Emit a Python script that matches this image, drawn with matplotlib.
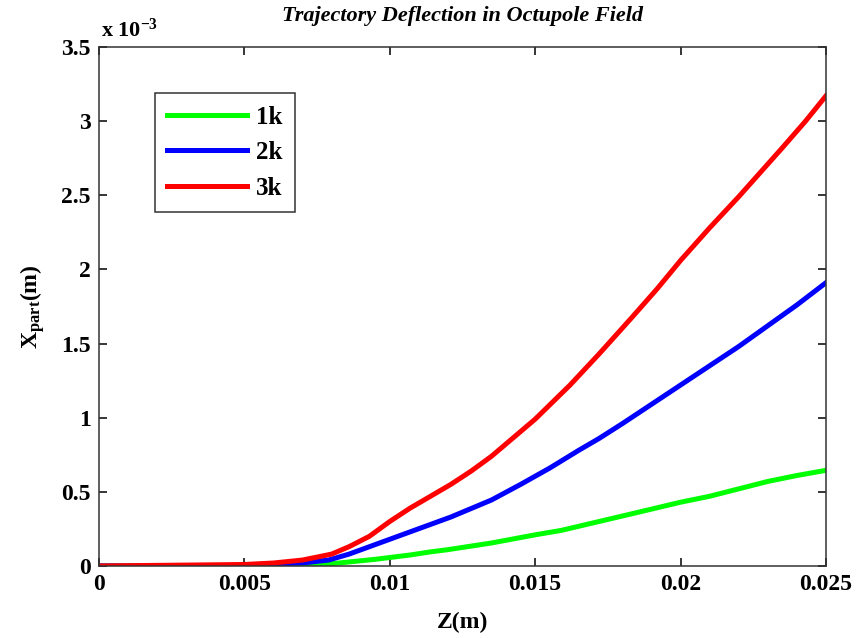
import matplotlib
matplotlib.use("Agg")
import matplotlib.pyplot as plt
from matplotlib.ticker import FuncFormatter, MultipleLocator

# Axial position (mm) and transverse displacement (x 1e-3 m) for each beam energy
z_red = [0, 5, 6, 7, 8, 8.6, 9.3, 10, 10.7, 11.4, 12.1, 12.8, 13.5, 14.1, 15, 16.2,
         17.2, 18.3, 19.2, 20, 21, 22, 22.5, 23.5, 24.3, 25]
x_3k = [0, 0.01, 0.02, 0.04, 0.08, 0.13, 0.20, 0.30, 0.39, 0.47, 0.55, 0.64, 0.74, 0.84,
        0.99, 1.22, 1.43, 1.67, 1.87, 2.06, 2.28, 2.49, 2.60, 2.82, 3.00, 3.17]

z_blue = [0, 5, 6, 7, 7.9, 8.6, 9.3, 10, 10.7, 11.4, 12.1, 13.5, 14.5, 15.5, 16.5, 17.2,
          18, 19, 20, 21, 22, 23, 24, 25]
x_2k = [0, 0.0, 0.01, 0.02, 0.04, 0.08, 0.13, 0.18, 0.23, 0.28, 0.33, 0.445, 0.55, 0.66,
        0.78, 0.86, 0.96, 1.09, 1.22, 1.35, 1.48, 1.62, 1.76, 1.91]

z_green = [0, 6, 7, 8, 8.6, 9.5, 10.7, 11.4, 12, 13.5, 15, 15.9, 17.2, 18.5, 20, 21, 22,
           23, 24, 25]
x_1k = [0, 0.0, 0.005, 0.015, 0.027, 0.045, 0.074, 0.095, 0.11, 0.155, 0.21, 0.24, 0.30,
        0.36, 0.43, 0.47, 0.52, 0.57, 0.61, 0.645]

series = [
    ("1k", z_green, x_1k, "#00ff00"),
    ("2k", z_blue, x_2k, "#0000ff"),
    ("3k", z_red, x_3k, "#ff0000"),
]

plt.rcParams["font.family"] = ["Liberation Serif", "DejaVu Serif"]
plt.rcParams["font.weight"] = "bold"
plt.rcParams["mathtext.fontset"] = "custom"
plt.rcParams["mathtext.rm"] = "Liberation Serif:bold"
plt.rcParams["mathtext.bf"] = "Liberation Serif:bold"
plt.rcParams["mathtext.it"] = "Liberation Serif:bold:italic"

fig = plt.figure(figsize=(8.63, 6.38), dpi=100)
ax = fig.add_axes([0.1147, 0.1129, 0.8423, 0.8134])

for label, z, x, color in series:
    ax.plot([v * 1e-3 for v in z], [v * 1e-3 for v in x], color=color, lw=3.6,
            label=label, solid_joinstyle="round")

ax.set_xlim(0, 0.025)
ax.set_ylim(0, 3.5e-3)
ax.xaxis.set_major_locator(MultipleLocator(0.005))
ax.yaxis.set_major_locator(MultipleLocator(0.5e-3))
ax.xaxis.set_major_formatter(FuncFormatter(lambda v, p: "%g" % round(v, 6)))
ax.yaxis.set_major_formatter(FuncFormatter(lambda v, p: "%g" % round(v * 1e3, 6)))

ax.tick_params(direction="in", length=6, width=1.1, top=True, right=True,
               labelsize=17, colors="black", pad=6)
for lab in ax.get_xticklabels() + ax.get_yticklabels():
    lab.set_fontweight("bold")
for sp in ax.spines.values():
    sp.set_linewidth(1.1)
    sp.set_color("#333333")

ax.set_xlabel("Z(m)", fontsize=17, fontweight="bold", labelpad=12)
ax.set_ylabel(r"X$_{\mathrm{part}}$(m)", fontsize=17, fontweight="bold", labelpad=10)
ax.set_title("Trajectory Deflection in Octupole Field", fontsize=16,
             fontweight="bold", style="italic", pad=19)

fig.text(101 / 863, 1 - 30 / 638, r"x 10$^{\mathrm{-3}}$", fontsize=16,
         fontweight="bold", ha="left", va="center")

leg = ax.legend(loc="upper left", bbox_to_anchor=(0.077, 0.911), borderaxespad=0,
                fancybox=False, edgecolor="black", fontsize=18, handlelength=3.2,
                labelspacing=0.5, borderpad=0.5, handletextpad=0.35)
leg.get_frame().set_linewidth(1.1)
for t in leg.get_texts():
    t.set_fontweight("bold")

fig.savefig("out.png", dpi=100)
